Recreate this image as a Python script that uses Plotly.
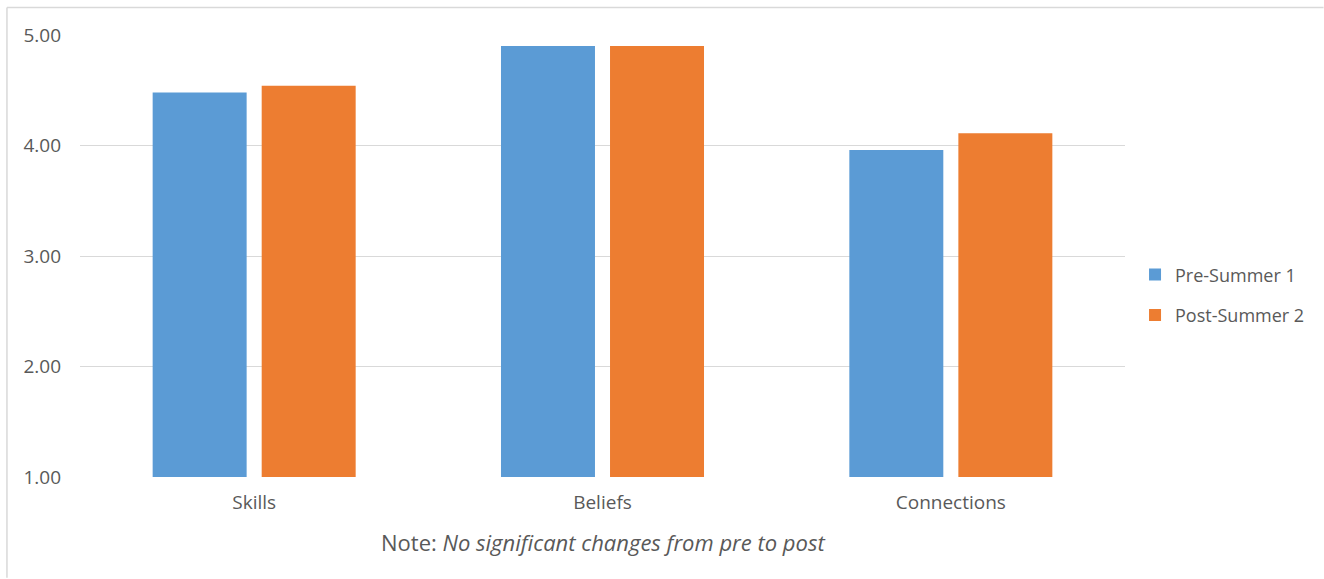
import plotly.graph_objects as go

categories = ["Skills", "Beliefs", "Connections"]
pre_summer = [4.48, 4.90, 3.96]
post_summer = [4.54, 4.90, 4.11]
series_names = ["Pre-Summer 1", "Post-Summer 2"]
y_ticks = [1, 2, 3, 4, 5]
y_tick_labels = ["1.00", "2.00", "3.00", "4.00", "5.00"]

BLUE = "#5B9BD5"
ORANGE = "#ED7D31"
TEXT = "#595959"
FONT = "Open Sans, Noto Sans, sans-serif"

fig = go.Figure()
fig.add_trace(go.Bar(x=categories, y=pre_summer, name=series_names[0],
                     legendgroup="pre",
                     marker=dict(color=BLUE, line=dict(width=0))))
fig.add_trace(go.Bar(x=categories, y=post_summer, name=series_names[1],
                     legendgroup="post",
                     marker=dict(color=ORANGE, line=dict(width=0))))

fig.update_layout(
    width=1324, height=579,
    margin=dict(l=80, r=199, t=35, b=102, autoexpand=False),
    paper_bgcolor="white", plot_bgcolor="white",
    barmode="group", bargap=0.374, bargroupgap=0.138,
    font=dict(family=FONT, size=18, color=TEXT),
    showlegend=True,
    legend=dict(x=1.0096, y=0.412, xanchor="left", yanchor="middle",
                font=dict(size=18, color=TEXT), itemwidth=30,
                tracegroupgap=14, bgcolor="rgba(0,0,0,0)"),
    xaxis=dict(showgrid=False, showline=False, ticks="",
               tickfont=dict(size=19, color=TEXT), ticklabelstandoff=12),
    yaxis=dict(range=[1, 5], tickvals=y_ticks, ticktext=y_tick_labels,
               showgrid=True, gridcolor="#D9D9D9", gridwidth=1,
               zeroline=False, showline=False, ticks="",
               tickfont=dict(size=19, color=TEXT), ticklabelstandoff=18),
    shapes=[
        dict(type="line", xref="paper", yref="paper",
             x0=-0.0699, x1=1.19, y0=1.062, y1=1.062,
             line=dict(color="#D9D9D9", width=1.5)),
        dict(type="line", xref="paper", yref="paper",
             x0=-0.0699, x1=-0.0699, y0=1.062, y1=-0.228,
             line=dict(color="#D9D9D9", width=1.5)),
    ],
    annotations=[
        dict(text="Note: <i>No significant changes from pre to post</i>",
             xref="paper", yref="paper", x=0.5, y=-0.146,
             xanchor="center", yanchor="middle", showarrow=False,
             font=dict(size=22, color=TEXT)),
    ],
)

fig.write_html("out.html")
